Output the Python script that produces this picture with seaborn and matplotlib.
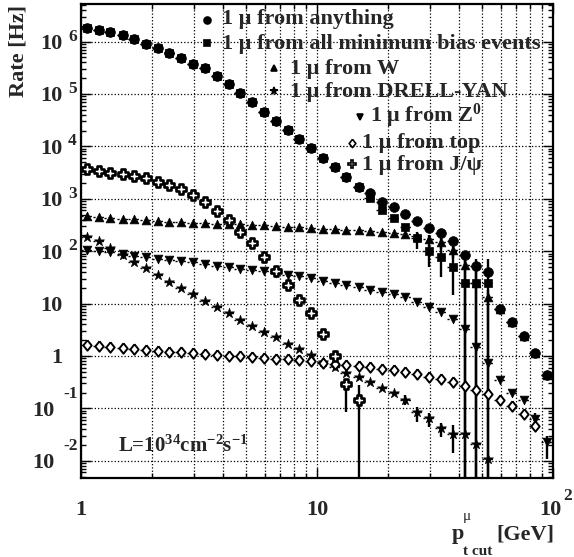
import numpy as np
import matplotlib
matplotlib.use("Agg")
import matplotlib.pyplot as plt
import matplotlib.transforms as mtransforms
from matplotlib.ticker import LogLocator, NullFormatter
import seaborn as sns

# -----------------------
# data
# -----------------------
# bin centres, p_t cut [GeV]
pt = [1.06, 1.19, 1.33, 1.50, 1.68, 1.88, 2.11, 2.37, 2.66, 2.99,
      3.35, 3.76, 4.22, 4.73, 5.31, 5.96, 6.68, 7.50, 8.41, 9.44,
      10.6, 11.9, 13.3, 15.0, 16.8, 18.8, 21.1, 23.7, 26.6, 29.9,
      33.5, 37.6, 42.2, 47.3, 53.1, 59.6, 66.8, 75.0, 84.1, 94.4]

rate_any = [1.79e6, 1.66e6, 1.50e6, 1.35e6, 1.12e6, 9.1e5, 7.6e5, 6.0e5, 4.8e5, 3.8e5,
            3.1e5, 2.2e5, 1.52e5, 1.03e5, 7.0e4, 4.6e4, 3.1e4, 2.05e4, 1.36e4, 9.2e3,
            6.05e3, 4.0e3, 2.63e3, 1.65e3, 1.26e3, 880, 685, 515, 380, 272,
            224, 158, 84, 52, 40, 7.9, 4.5, 2.4, 1.16, 0.44]

rate_minbias = [1.79e6, 1.66e6, 1.50e6, 1.35e6, 1.12e6, 9.1e5, 7.6e5, 6.0e5, 4.8e5, 3.8e5,
                3.1e5, 2.2e5, 1.52e5, 1.03e5, 7.0e4, 4.6e4, 3.1e4, 2.05e4, 1.36e4, 9.2e3,
                6.05e3, 4.0e3, 2.63e3, 1.65e3, 1.02e3, 610, 423, 285, 175, 102,
                76, 50, 25, 25, 25]

rate_w = [468, 454, 435, 415, 404, 387, 376, 364, 355, 348,
          339, 333, 328, 324, 319, 309, 299, 292, 284, 275,
          267, 261, 251, 251, 240, 232, 226, 214, 191, 174,
          151, 105, 54, 25, 13.2, 7.9, 4.5, 2.4, 1.16, 0.44]

rate_dy = [188, 156, 113, 85, 63, 47, 35, 26, 20, 15,
           11.3, 8.45, 6.5, 4.84, 3.77, 2.9, 2.26, 1.72, 1.36, 1.04,
           0.776, 0.63, 0.466, 0.39, 0.313, 0.241, 0.193, 0.145, 0.085, 0.065,
           0.042, 0.032, 0.032, 0.021, 0.011]

rate_z = [105, 102, 97.5, 88, 82, 76, 71.6, 67.6, 64.7, 61.1,
          56.8, 52.6, 49.1, 46.1, 43.6, 41.7, 38.7, 35, 33.5, 30.3,
          27.2, 25, 22.5, 20.9, 18.1, 16.8, 15.2, 13.1, 10.8, 8.7,
          7.0, 5.0, 3.24, 1.48, 0.75, 0.347, 0.193, 0.145, 0.063, 0.023]

rate_top = [1.61, 1.55, 1.46, 1.40, 1.36, 1.30, 1.26, 1.20, 1.17, 1.12,
            1.07, 1.04, 1.01, 0.995, 0.966, 0.925, 0.89, 0.86, 0.824, 0.789,
            0.741, 0.692, 0.67, 0.641, 0.605, 0.57, 0.538, 0.49, 0.447, 0.40,
            0.363, 0.322, 0.267, 0.224, 0.185, 0.145, 0.111, 0.0767, 0.0468]

rate_jpsi = [3640, 3380, 3130, 2920, 2710, 2450, 2110, 1860, 1510, 1175,
             861, 589, 393, 229, 141, 77, 41, 22.5, 11.7, 6.67,
             2.58, 1.0, 0.287, 0.145]

# vertical error bars: bin index, bar bottom, bar top (1e-3 = runs off the bottom)
minbias_err_k = [28, 29, 30, 31, 32, 33, 34]
minbias_err_lo = [112, 50, 32, 14.5, 1e-3, 1e-3, 1e-3]
minbias_err_hi = [234, 162, 120, 98, 72, 72, 72]

w_err_k = [29, 30, 31, 32, 33, 34]
w_err_lo = [150, 110, 75, 1e-3, 1e-3, 1e-3]
w_err_hi = [205, 215, 135, 84, 45, 18]

dy_err_k = [27, 28, 29, 30, 31]
dy_err_lo = [0.115, 0.056, 0.045, 0.029, 0.0138]
dy_err_hi = [0.18, 0.107, 0.08, 0.052, 0.048]

z_err_k = [38, 39]
z_err_lo = [0.05, 0.0107]
z_err_hi = [0.08, 0.030]

jpsi_err_k = [22, 23]
jpsi_err_lo = [0.086, 1e-3]
jpsi_err_hi = [0.347, 0.279]

legend_labels = ["1 \u03bc from anything",
                 "1 \u03bc from all minimum bias events",
                 "1 \u03bc from W",
                 "1 \u03bc from DRELL-YAN",
                 "1 \u03bc from Z$^{0}$",
                 "1 \u03bc from top",
                 "1 \u03bc from J/\u03c8"]

# -----------------------
# style
# -----------------------
sns.set_theme(style="ticks")
plt.rcParams["font.family"] = ["Liberation Serif", "DejaVu Serif"]
plt.rcParams["font.weight"] = "bold"
plt.rcParams["mathtext.fontset"] = "custom"
plt.rcParams["mathtext.rm"] = "Liberation Serif:bold"
plt.rcParams["mathtext.bf"] = "Liberation Serif:bold"
plt.rcParams["mathtext.it"] = "Liberation Serif:bold:italic"
plt.rcParams["mathtext.default"] = "rm"

W, H = 574, 557
fig = plt.figure(figsize=(W / 100, H / 100), dpi=100)
ax = fig.add_axes([81 / W, 1 - 478 / H, 472 / W, 474 / H])
ax.set_xscale("log")
ax.set_yscale("log")

diamond = [(0, 1), (0.8, 0), (0, -1), (-0.8, 0), (0, 1)]


def bins(vals):
    n = len(vals)
    x = np.array(pt[:n])
    return x, x / 1.0593, x * 1.0593


def series(vals, marker, size, face="black", lw=0.5):
    x, lo, hi = bins(vals)
    ax.hlines(vals, lo, hi, colors="black", linestyles=(0, (1.5, 1.5)), lw=1.0, zorder=2)
    sns.scatterplot(x=x, y=vals, marker=marker, s=size ** 2, color=face,
                    edgecolor="black", linewidth=lw, ax=ax, zorder=3)


def errbars(ks, lo, hi):
    ax.vlines([pt[k] for k in ks], lo, hi, colors="black", lw=1.7, zorder=2)


errbars(minbias_err_k, minbias_err_lo, minbias_err_hi)
errbars(w_err_k, w_err_lo, w_err_hi)
errbars(dy_err_k, dy_err_lo, dy_err_hi)
errbars(z_err_k, z_err_lo, z_err_hi)
errbars(jpsi_err_k, jpsi_err_lo, jpsi_err_hi)

series(rate_minbias, "s", 6.3)
series(rate_any, "o", 7)
series(rate_w, "^", 6.3)
series(rate_dy, "*", 7.5)
series(rate_z, "v", 6.3)
series(rate_top, diamond, 7.5, face="white", lw=1.4)
series(rate_jpsi, "P", 7, face="white", lw=1.9)

ax.set_xlim(1, 100)
ax.set_ylim(0.0047, 5.2e6)
ax.set_xlabel("")
ax.set_ylabel("")

ax.xaxis.set_major_locator(LogLocator(base=10, numticks=10))
ax.xaxis.set_minor_locator(LogLocator(base=10, subs=np.arange(2, 10), numticks=10))
ax.yaxis.set_major_locator(LogLocator(base=10, numticks=20))
ax.yaxis.set_minor_locator(LogLocator(base=10, subs=np.arange(2, 10), numticks=20))
for a in (ax.xaxis, ax.yaxis):
    a.set_major_formatter(NullFormatter())
    a.set_minor_formatter(NullFormatter())

ax.tick_params(which="both", direction="in", top=True, right=True, color="black")
ax.tick_params(which="major", length=7, width=1)
ax.tick_params(which="minor", length=3.5, width=1)
for sp in ax.spines.values():
    sp.set_linewidth(1.6)
    sp.set_color("black")

ax.set_axisbelow(True)
ax.grid(True, which="major", axis="y", ls=":", color="black", lw=0.9)
ax.grid(True, which="both", axis="x", ls=":", color="black", lw=0.9)

# -----------------------
# tick labels, ROOT style
# -----------------------
fs = 16
fs_exp = 12.5
bold = dict(fontweight="bold")


def yoff(dx, dy):
    return mtransforms.offset_copy(ax.get_yaxis_transform(), fig=fig, x=dx, y=dy, units="dots")


def xoff(dx, dy):
    return mtransforms.offset_copy(ax.get_xaxis_transform(), fig=fig, x=dx, y=dy, units="dots")


for e in range(-2, 7):
    v = 10.0 ** e
    if e == 0 or e == 1:
        ax.text(0, v, str(int(v)), transform=yoff(-19, -7.5), ha="right",
                va="baseline", fontsize=fs, **bold)
    elif e > 0:
        ax.text(0, v, "10", transform=yoff(-18, -7.5), ha="right", va="baseline", fontsize=fs, **bold)
        ax.text(0, v, str(e), transform=yoff(-13, 1), ha="left", va="baseline", fontsize=fs_exp, **bold)
    else:
        ax.text(0, v, "10", transform=yoff(-26, -7.5), ha="right", va="baseline", fontsize=fs, **bold)
        ax.text(0, v, str(e), transform=yoff(-18, 10.5), ha="left", va="baseline", fontsize=fs_exp, **bold)

ax.text(1, 0, "1", transform=xoff(0, -37), ha="center", va="baseline", fontsize=fs, **bold)
ax.text(10, 0, "10", transform=xoff(0, -37), ha="center", va="baseline", fontsize=fs, **bold)
ax.text(100, 0, "10", transform=xoff(-2.5, -37), ha="center", va="baseline", fontsize=fs, **bold)
ax.text(100, 0, "2", transform=xoff(10, -22), ha="left", va="baseline", fontsize=fs_exp, **bold)


def ftext(px, py, s, **kw):
    kw.setdefault("va", "baseline")
    kw.setdefault("fontweight", "bold")
    return fig.text(px / W, 1 - py / H, s, **kw)


# axis titles
ftext(19, 5, "Rate [Hz]", rotation=90, ha="center", va="top", fontsize=fs)
ftext(452, 539, "p", fontsize=fs)
ftext(463, 520, "\u03bc", fontsize=11, fontweight="normal")
ftext(463, 555, "t cut", fontsize=11)
ftext(496, 539, "[GeV]", fontsize=fs)

ftext(118, 452, "L=10$^{34}$cm$^{-2}$s$^{-1}$", fontsize=15)

# -----------------------
# legend (drawn by hand, entries are staggered)
# -----------------------
leg_marker = ["o", "s", "^", "*", "v", diamond, "P"]
leg_msize = [5, 5, 5, 5.5, 5, 6, 5.5]
leg_face = ["black"] * 5 + ["white", "white"]
leg_mx = [207, 207, 274, 274, 360, 352, 352]
leg_my = [20, 43, 68, 91, 117, 143, 164]
leg_tx = [222, 222, 290, 290, 370, 362, 362]
leg_ty = [24, 49, 74, 97, 122, 148, 170]

for i, lab in enumerate(legend_labels):
    fig.add_artist(plt.Line2D([leg_mx[i] / W], [1 - leg_my[i] / H], marker=leg_marker[i],
                              markersize=leg_msize[i], markerfacecolor=leg_face[i],
                              markeredgecolor="black", markeredgewidth=1.2,
                              linestyle="none", transform=fig.transFigure))
    ftext(leg_tx[i], leg_ty[i], lab, fontsize=fs)

fig.savefig("out.png", dpi=100)
